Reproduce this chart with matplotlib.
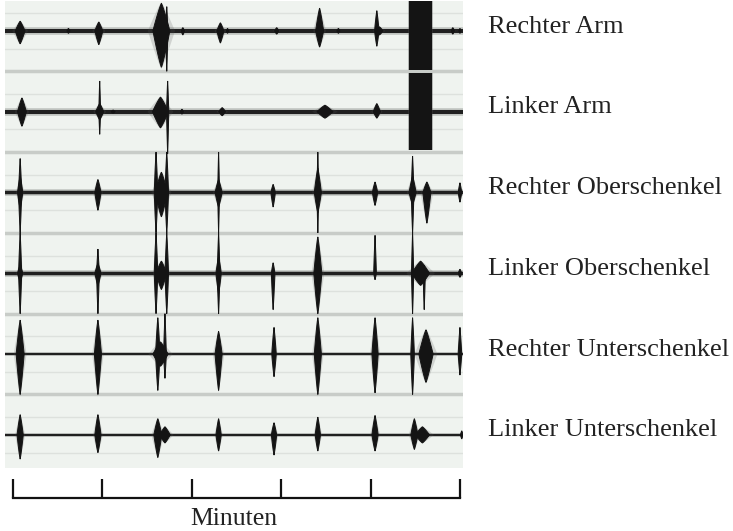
import numpy as np
import matplotlib
matplotlib.use('Agg')
import matplotlib.pyplot as plt
import matplotlib.transforms as mtransforms

plt.rcParams['font.family'] = ['Liberation Serif', 'DejaVu Serif']

# channel names (top to bottom)
labels = ['Rechter Arm', 'Linker Arm', 'Rechter Oberschenkel',
          'Linker Oberschenkel', 'Rechter Unterschenkel', 'Linker Unterschenkel']

# bursts per channel: (time [min], width [min], amplitude up, amplitude down)  in row units
bursts_ra = [(0.08, 0.11, 0.12, 0.16), (0.62, 0.04, 0.03, 0.03), (0.96, 0.09, 0.11, 0.17),
             (1.66, 0.19, 0.34, 0.45), (1.72, 0.025, 0.30, 0.50), (1.90, 0.04, 0.04, 0.05),
             (2.32, 0.08, 0.10, 0.15), (2.40, 0.03, 0.03, 0.03), (2.95, 0.05, 0.04, 0.04),
             (3.43, 0.09, 0.28, 0.20), (3.64, 0.04, 0.03, 0.03), (4.07, 0.05, 0.25, 0.19),
             (4.10, 0.08, 0.05, 0.05), (4.92, 0.04, 0.04, 0.04), (5.00, 0.03, 0.03, 0.03)]
bursts_la = [(0.10, 0.10, 0.17, 0.18), (0.97, 0.02, 0.38, 0.28), (0.97, 0.09, 0.10, 0.10),
             (1.12, 0.05, 0.02, 0.02), (1.65, 0.18, 0.18, 0.20), (1.73, 0.025, 0.38, 0.52),
             (1.89, 0.04, 0.03, 0.03), (2.34, 0.08, 0.05, 0.05), (3.49, 0.18, 0.08, 0.08),
             (4.07, 0.08, 0.10, 0.08)]
bursts_ro = [(0.08, 0.035, 0.42, 0.50), (0.08, 0.06, 0.20, 0.20), (0.95, 0.07, 0.16, 0.22),
             (1.60, 0.04, 0.50, 0.50), (1.72, 0.04, 0.50, 0.50), (1.66, 0.14, 0.25, 0.30),
             (2.30, 0.08, 0.16, 0.18), (2.30, 0.02, 0.50, 0.50), (2.91, 0.05, 0.10, 0.18),
             (3.41, 0.08, 0.30, 0.25), (3.41, 0.02, 0.50, 0.50), (4.05, 0.06, 0.13, 0.16),
             (4.47, 0.03, 0.45, 0.50), (4.47, 0.08, 0.20, 0.15), (4.63, 0.09, 0.13, 0.38),
             (5.00, 0.04, 0.12, 0.12)]
bursts_lo = [(0.08, 0.035, 0.50, 0.50), (0.08, 0.06, 0.10, 0.10), (0.95, 0.03, 0.30, 0.50),
             (0.95, 0.07, 0.12, 0.15), (1.60, 0.04, 0.50, 0.50), (1.72, 0.04, 0.50, 0.50),
             (1.66, 0.12, 0.15, 0.20), (2.30, 0.03, 0.50, 0.50), (2.30, 0.06, 0.20, 0.25),
             (2.91, 0.04, 0.13, 0.45), (3.41, 0.09, 0.45, 0.50), (4.05, 0.03, 0.47, 0.08),
             (4.56, 0.20, 0.15, 0.15), (4.47, 0.025, 0.50, 0.50), (4.60, 0.025, 0.10, 0.45),
             (5.00, 0.04, 0.05, 0.05)]
bursts_ru = [(0.08, 0.09, 0.42, 0.50), (0.95, 0.08, 0.42, 0.50), (1.65, 0.17, 0.15, 0.15),
             (1.62, 0.05, 0.45, 0.45), (1.70, 0.03, 0.50, 0.30), (2.30, 0.08, 0.28, 0.45),
             (2.92, 0.05, 0.33, 0.28), (3.41, 0.08, 0.45, 0.50), (4.05, 0.07, 0.45, 0.48),
             (4.47, 0.04, 0.45, 0.50), (4.62, 0.16, 0.30, 0.35), (5.00, 0.04, 0.33, 0.26)]
bursts_lu = [(0.08, 0.07, 0.25, 0.30), (0.95, 0.07, 0.25, 0.22), (1.62, 0.09, 0.20, 0.28),
             (1.70, 0.12, 0.10, 0.10), (2.30, 0.06, 0.20, 0.20), (2.92, 0.06, 0.15, 0.25),
             (3.41, 0.06, 0.22, 0.20), (4.05, 0.07, 0.24, 0.20), (4.49, 0.08, 0.20, 0.18),
             (4.58, 0.16, 0.10, 0.10), (5.02, 0.03, 0.05, 0.05)]
bursts = [bursts_ra, bursts_la, bursts_ro, bursts_lo, bursts_ru, bursts_lu]

# big saturated blocks in the arm channels: (row, time, width, up, down)
blocks = [(0, 4.56, 0.25, 0.40, 0.49), (1, 4.56, 0.25, 0.48, 0.48)]

baseline_lw = [2.9, 2.9, 2.5, 2.5, 1.5, 1.5]
minute_ticks = [0, 1, 2, 3, 4, 5]

W, H = 733, 531
fig = plt.figure(figsize=(W / 100, H / 100), dpi=100)

# trace panel (pixel box 5..463 x 1..468)
ax = fig.add_axes([5 / W, (H - 468) / H, 458 / W, 467 / H])
ax.set_facecolor('#eff3ef')
ax.set_xlim(-0.0895, 5.034)
ax.set_ylim(5.41, -0.37)
ax.set_xticks([])
ax.set_yticks([])
for s in ax.spines.values():
    s.set_visible(False)

ink = '#141414'


def spindle(t, w, up, dn, row, exp):
    h = np.linspace(-up, dn, 80)
    a = np.where(h < 0, up, dn)
    half = w / 2 * (1 - np.abs(h) / a) ** exp
    xs = np.concatenate([t - half, (t + half)[::-1]])
    ys = np.concatenate([row + h, (row + h)[::-1]])
    return xs, ys


n = len(labels)
for i in range(n):
    # faint grid lines inside each row
    for off in (-0.22, 0.22):
        ax.axhline(i + off, color='#dde1dd', lw=1.0, zorder=1)
    if i < n - 1:
        ax.axhline(i + 0.5, color='#c8ccc8', lw=2.5, zorder=1)
    ax.axhline(i, color='#8a8e8a', lw=baseline_lw[i] * 1.9, alpha=0.45, zorder=2)
    ax.axhline(i, color='#202020', lw=baseline_lw[i], zorder=2)
    for t, w, up, dn in bursts[i]:
        xs, ys = spindle(t, w * 1.6, up * 1.05, dn * 1.05, i, 0.9)
        ax.fill(xs, ys, color='#555555', alpha=0.2, lw=0, zorder=3)
        xs, ys = spindle(t, w, up, dn, i, 0.85)
        ax.fill(xs, ys, color=ink, lw=0.7, ec=ink, zorder=4)

for r, t, w, up, dn in blocks:
    ax.bar(t, up + dn, width=w * 1.15, bottom=r - up, color='#444444', alpha=0.35, zorder=3)
    ax.bar(t, up + dn, width=w, bottom=r - up, color=ink, zorder=4)

tr = mtransforms.blended_transform_factory(ax.transAxes, ax.transData)
for i, lab in enumerate(labels):
    ax.text(1.0546, i + 0.02, lab, transform=tr, fontsize=19, color='#222222',
            va='baseline', ha='left')

# time axis below the panel
ax2 = fig.add_axes([13 / W, (H - 498) / H, 447 / W, 20 / H])
ax2.set_xlim(0, 5)
ax2.set_facecolor('none')
for k in ('top', 'left', 'right'):
    ax2.spines[k].set_visible(False)
ax2.spines['bottom'].set_linewidth(1.6)
ax2.spines['bottom'].set_color('#111111')
ax2.set_yticks([])
ax2.set_xticks(minute_ticks)
ax2.set_xticklabels([])
ax2.tick_params(axis='x', direction='in', length=13.7, width=1.6, color='#111111')

fig.text(234 / W, (H - 525) / H, 'Minuten', fontsize=18.5, color='#222222',
         ha='center', va='baseline')

fig.savefig('out.png', dpi=100)
